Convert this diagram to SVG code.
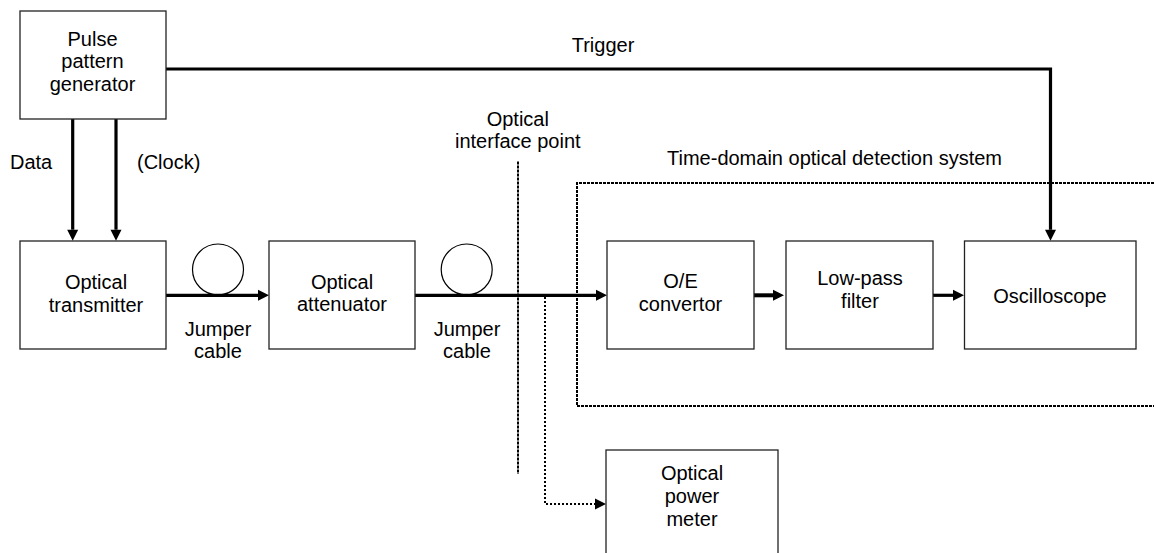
<svg xmlns="http://www.w3.org/2000/svg" width="1154" height="553" viewBox="0 0 1154 553">
<style>
.box{fill:#fff;stroke:#222;stroke-width:1.3}
text{font-family:"Liberation Sans",Arial,sans-serif;font-size:20px;fill:#000}
.c{text-anchor:middle}
.thick{fill:none;stroke:#000;stroke-width:3.2}
.thin{fill:none;stroke:#000;stroke-width:1.2}
.dash{fill:none;stroke:#000;stroke-width:2;stroke-dasharray:3 1}
.dot{fill:none;stroke:#000;stroke-width:2;stroke-dasharray:2 2}
</style>
<defs>
<marker id="ah" markerUnits="userSpaceOnUse" markerWidth="12" markerHeight="12" refX="0" refY="5.5" orient="auto" overflow="visible">
<path d="M0,0 L11,5.5 L0,11 z" fill="#000"/>
</marker>
</defs>

<g id="detection-system">
<path class="dash" d="M1154,183 H577 V406 H1154"/>
<text class="c" x="834.5" y="165">Time-domain optical detection system</text>
</g>

<g id="interface-point">
<line class="dash" x1="518" y1="161.5" x2="518" y2="474"/>
<text class="c" x="517.8" y="125.5">Optical</text>
<text class="c" x="517.8" y="148.3">interface point</text>
</g>

<g id="connectors">
<line class="thick" x1="72.7" y1="119" x2="72.7" y2="229.7" marker-end="url(#ah)"/>
<line class="thick" x1="116" y1="119" x2="116" y2="229.7" marker-end="url(#ah)"/>
<path class="thick" d="M166,69 H1050.5 V229.7" marker-end="url(#ah)"/>
<line class="thick" x1="166" y1="295.3" x2="258" y2="295.3" marker-end="url(#ah)"/>
<line class="thick" x1="415" y1="295.3" x2="596" y2="295.3" marker-end="url(#ah)"/>
<line class="thick" x1="754" y1="295.3" x2="773" y2="295.3" marker-end="url(#ah)" style="stroke-width:4"/>
<line class="thick" x1="933" y1="295.3" x2="953" y2="295.3" marker-end="url(#ah)"/>
<path class="dot" d="M545,297 V504 H595" marker-end="url(#ah)"/>
<circle class="thin" cx="218" cy="269.5" r="25.5"/>
<circle class="thin" cx="466.7" cy="269.5" r="25.5"/>
<text x="10" y="169">Data</text>
<text x="137" y="169">(Clock)</text>
<text class="c" x="603" y="52">Trigger</text>
<text class="c" x="218" y="335.5">Jumper</text>
<text class="c" x="218" y="358">cable</text>
<text class="c" x="467" y="335.5">Jumper</text>
<text class="c" x="467" y="358">cable</text>
</g>

<g id="pulse-pattern-generator">
<rect class="box" x="20" y="11" width="146" height="108"/>
<text class="c" x="92.5" y="45.7">Pulse</text>
<text class="c" x="92.5" y="68.4">pattern</text>
<text class="c" x="92.5" y="91.1">generator</text>
</g>

<g id="optical-transmitter">
<rect class="box" x="20" y="241" width="146" height="108"/>
<text class="c" x="96" y="289">Optical</text>
<text class="c" x="96" y="311.7">transmitter</text>
</g>

<g id="optical-attenuator">
<rect class="box" x="269" y="241" width="146" height="108"/>
<text class="c" x="342" y="288.5">Optical</text>
<text class="c" x="342" y="311.2">attenuator</text>
</g>

<g id="oe-convertor">
<rect class="box" x="607" y="241" width="147" height="108"/>
<text class="c" x="680.5" y="288.3">O/E</text>
<text class="c" x="680.5" y="311">convertor</text>
</g>

<g id="low-pass-filter">
<rect class="box" x="786" y="241" width="147" height="108"/>
<text class="c" x="860" y="285">Low-pass</text>
<text class="c" x="860" y="308">filter</text>
</g>

<g id="oscilloscope">
<rect class="box" x="964.5" y="241" width="171.5" height="108"/>
<text class="c" x="1050" y="302.7">Oscilloscope</text>
</g>

<g id="optical-power-meter">
<rect class="box" x="606" y="450" width="172" height="110"/>
<text class="c" x="692" y="480">Optical</text>
<text class="c" x="692" y="503">power</text>
<text class="c" x="692" y="526">meter</text>
</g>

<text x="1063" y="561" style="font-size:11px">IEC  1 516/02</text>
</svg>
